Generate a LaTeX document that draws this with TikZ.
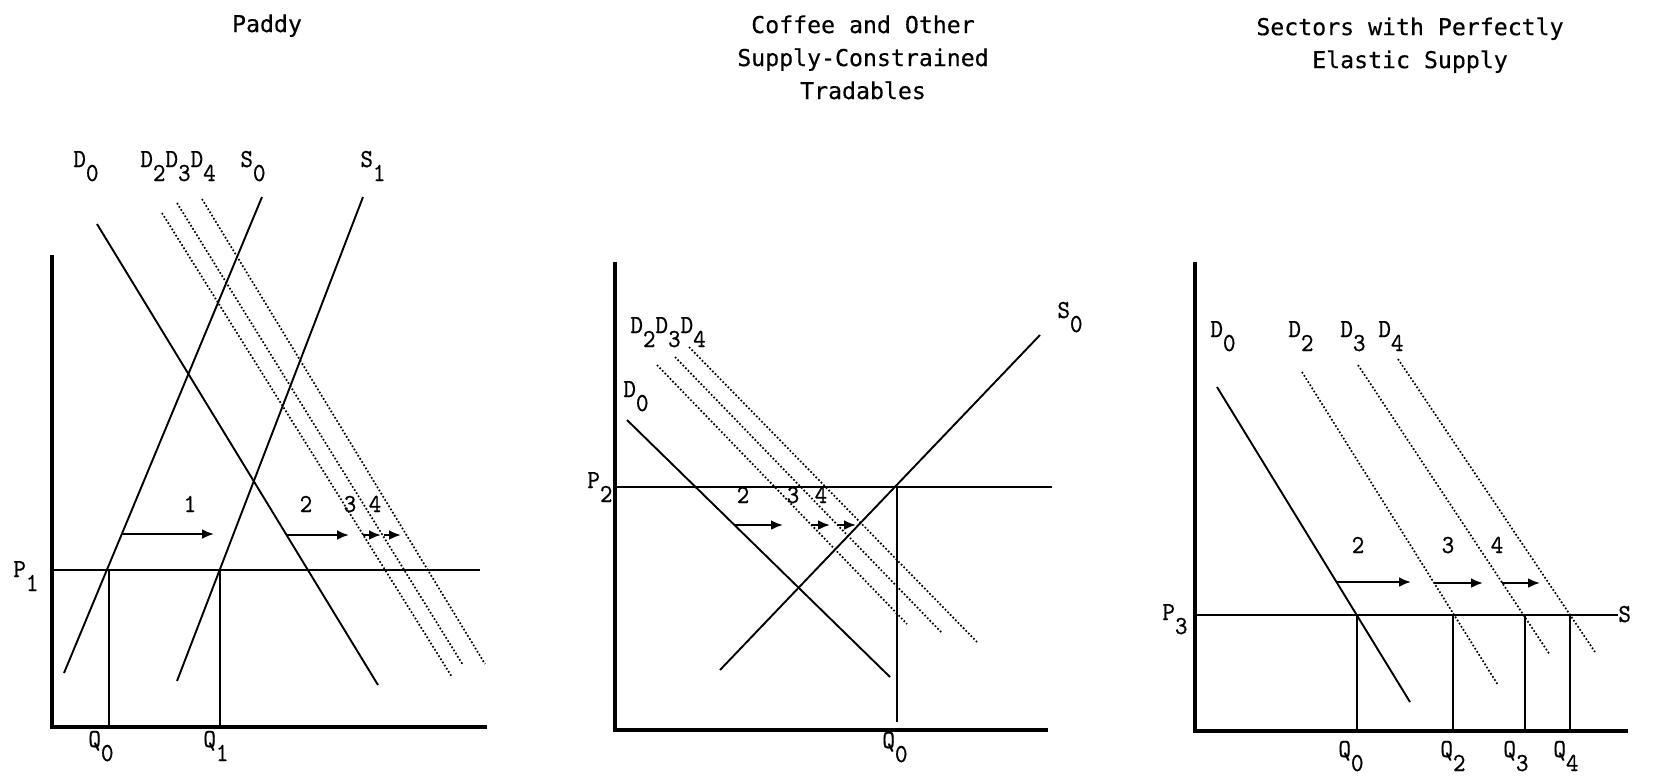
\documentclass[tikz,border=0pt]{standalone}
\usepackage{fontspec}
\newfontfamily\titlefont{DejaVu Sans Mono}[FakeBold=0.4]
\newfontfamily\labfont{lmmono10-regular}[Extension=.otf, FakeBold=0.6, FakeStretch=0.92]
\usetikzlibrary{arrows.meta}
\newcommand{\mysub}[2]{#1\raisebox{-7pt}{#2}}
\begin{document}
\begin{tikzpicture}[x=0.5pt,y=-0.5pt,
  axis/.style={line width=1.6pt},
  curve/.style={line width=0.95pt},
  dotcurve/.style={line width=0.85pt, dash pattern=on 0.85pt off 1.0pt},
  guide/.style={line width=0.95pt},
  shiftarrow/.style={line width=1.2pt, -{Latex[length=6pt,width=5pt]}},
  lab/.style={font=\fontsize{13}{15}\selectfont\labfont, inner sep=0pt, anchor=base west},
  num/.style={font=\fontsize{13}{15}\selectfont\labfont, inner sep=0pt, anchor=base},
  ttl/.style={font=\titlefont\fontsize{11.6}{16.5}\selectfont, align=center, inner sep=0pt, anchor=north}
]
\useasboundingbox (0,0) rectangle (1675,777);

% ---------------- Titles
\node[ttl] (t1) at (267,14) {Paddy};
\node[ttl] (t2) at (863,15) {Coffee and Other\\Supply-Constrained\\Tradables};
\node[ttl] (t3) at (1410,17) {Sectors with Perfectly\\Elastic Supply};

% ================= Panel 1: Paddy
\coordinate (a1t) at (52,255);
\coordinate (a1o) at (52,727);
\coordinate (a1r) at (487,727);
\draw[axis] (a1t) -- (a1o) -- (a1r);

\coordinate (d0a) at (97,224);  \coordinate (d0b) at (378,685);
\coordinate (s0a) at (262,197); \coordinate (s0b) at (64,673);
\coordinate (s1a) at (363,197); \coordinate (s1b) at (177,681);
\coordinate (d2a) at (162,213); \coordinate (d2b) at (452,677);
\coordinate (d3a) at (177,203); \coordinate (d3b) at (463,665);
\coordinate (d4a) at (202,199); \coordinate (d4b) at (485,664);
\draw[curve] (d0a) -- (d0b);
\draw[curve] (s0a) -- (s0b);
\draw[curve] (s1a) -- (s1b);
\draw[dotcurve] (d2a) -- (d2b);
\draw[dotcurve] (d3a) -- (d3b);
\draw[dotcurve] (d4a) -- (d4b);

\coordinate (p1a) at (52,570);  \coordinate (p1b) at (480,570);
\draw[guide] (p1a) -- (p1b);
\coordinate (q0t) at (109,570); \coordinate (q0b) at (109,727);
\coordinate (q1t) at (220,570); \coordinate (q1b) at (220,727);
\draw[guide] (q0t) -- (q0b);
\draw[guide] (q1t) -- (q1b);

\coordinate (ar1a) at (122,534); \coordinate (ar1b) at (214,534);
\coordinate (ar2a) at (287,535); \coordinate (ar2b) at (349,535);
\coordinate (ar3a) at (363,535); \coordinate (ar3b) at (381,535);
\coordinate (ar4a) at (384,535); \coordinate (ar4b) at (401,535);
\draw[shiftarrow] (ar1a) -- (ar1b);
\draw[shiftarrow] (ar2a) -- (ar2b);
\draw[shiftarrow] (ar3a) -- (ar3b);
\draw[shiftarrow] (ar4a) -- (ar4b);
\node[num] (n11) at (190,512) {1};
\node[num] (n12) at (306,512) {2};
\node[num] (n13) at (350,512) {3};
\node[num] (n14) at (375,512) {4};

\node[lab] (l1d0) at (73,167) {\mysub{D}{0}};
\node[lab] (l1d2) at (140,167) {\mysub{D}{2}\mysub{D}{3}\mysub{D}{4}};
\node[lab] (l1s0) at (240,167) {\mysub{S}{0}};
\node[lab] (l1s1) at (360,167) {\mysub{S}{1}};
\node[lab] (l1p1) at (13,577) {\mysub{P}{1}};
\node[lab] (l1q0) at (88,747) {\mysub{Q}{0}};
\node[lab] (l1q1) at (203,747) {\mysub{Q}{1}};

% ================= Panel 2: Coffee
\coordinate (a2t) at (615,262);
\coordinate (a2o) at (615,730);
\coordinate (a2r) at (1048,730);
\draw[axis] (a2t) -- (a2o) -- (a2r);

\coordinate (e0a) at (627,420);  \coordinate (e0b) at (890,677);
\coordinate (t0a) at (1040,335); \coordinate (t0b) at (720,670);
\coordinate (e2a) at (657,365);  \coordinate (e2b) at (907,624);
\coordinate (e3a) at (675,357);  \coordinate (e3b) at (942,633);
\coordinate (e4a) at (689,347);  \coordinate (e4b) at (978,643);
\draw[curve] (e0a) -- (e0b);
\draw[curve] (t0a) -- (t0b);
\draw[dotcurve] (e2a) -- (e2b);
\draw[dotcurve] (e3a) -- (e3b);
\draw[dotcurve] (e4a) -- (e4b);

\coordinate (p2a) at (615,487); \coordinate (p2b) at (1052,487);
\draw[guide] (p2a) -- (p2b);
\coordinate (r0t) at (897,487); \coordinate (r0b) at (897,722);
\draw[guide] (r0t) -- (r0b);

\coordinate (br2a) at (735,525); \coordinate (br2b) at (783,525);
\coordinate (br3a) at (811,525); \coordinate (br3b) at (830,525);
\coordinate (br4a) at (838,525); \coordinate (br4b) at (856,525);
\draw[shiftarrow] (br2a) -- (br2b);
\draw[shiftarrow] (br3a) -- (br3b);
\draw[shiftarrow] (br4a) -- (br4b);
\node[num] (n22) at (743,503) {2};
\node[num] (n23) at (793,503) {3};
\node[num] (n24) at (821,503) {4};

\node[lab] (l2d2) at (630,333) {\mysub{D}{2}\mysub{D}{3}\mysub{D}{4}};
\node[lab] (l2d0) at (623,397) {\mysub{D}{0}};
\node[lab] (l2s0) at (1057,318) {\mysub{S}{0}};
\node[lab] (l2p2) at (587,488) {\mysub{P}{2}};
\node[lab] (l2q0) at (882,748) {\mysub{Q}{0}};

% ================= Panel 3: Elastic supply
\coordinate (a3t) at (1195,262);
\coordinate (a3o) at (1195,731);
\coordinate (a3r) at (1628,731);
\draw[axis] (a3t) -- (a3o) -- (a3r);

\coordinate (f0a) at (1217,387); \coordinate (f0b) at (1410,702);
\coordinate (f2a) at (1302,372); \coordinate (f2b) at (1498,685);
\coordinate (f3a) at (1358,365); \coordinate (f3b) at (1550,655);
\coordinate (f4a) at (1398,359); \coordinate (f4b) at (1595,652);
\draw[curve] (f0a) -- (f0b);
\draw[dotcurve] (f2a) -- (f2b);
\draw[dotcurve] (f3a) -- (f3b);
\draw[dotcurve] (f4a) -- (f4b);

\coordinate (p3a) at (1195,615); \coordinate (p3b) at (1618,615);
\draw[guide] (p3a) -- (p3b);
\coordinate (u0t) at (1357,615); \coordinate (u0b) at (1357,729);
\coordinate (u2t) at (1453,615); \coordinate (u2b) at (1453,729);
\coordinate (u3t) at (1525,615); \coordinate (u3b) at (1525,731);
\coordinate (u4t) at (1570,615); \coordinate (u4b) at (1570,729);
\draw[guide] (u0t) -- (u0b);
\draw[guide] (u2t) -- (u2b);
\draw[guide] (u3t) -- (u3b);
\draw[guide] (u4t) -- (u4b);

\coordinate (cr2a) at (1336,582); \coordinate (cr2b) at (1411,582);
\coordinate (cr3a) at (1434,583); \coordinate (cr3b) at (1483,583);
\coordinate (cr4a) at (1502,583); \coordinate (cr4b) at (1540,583);
\draw[shiftarrow] (cr2a) -- (cr2b);
\draw[shiftarrow] (cr3a) -- (cr3b);
\draw[shiftarrow] (cr4a) -- (cr4b);
\node[num] (n32) at (1358,553) {2};
\node[num] (n33) at (1448,553) {3};
\node[num] (n34) at (1497,553) {4};

\node[lab] (l3d0) at (1210,337) {\mysub{D}{0}};
\node[lab] (l3d2) at (1288,337) {\mysub{D}{2}};
\node[lab] (l3d3) at (1340,337) {\mysub{D}{3}};
\node[lab] (l3d4) at (1378,337) {\mysub{D}{4}};
\node[lab] (l3s) at (1618,622) {S};
\node[lab] (l3p3) at (1162,620) {\mysub{P}{3}};
\node[lab] (l3q0) at (1338,757) {\mysub{Q}{0}};
\node[lab] (l3q2) at (1440,757) {\mysub{Q}{2}};
\node[lab] (l3q3) at (1503,757) {\mysub{Q}{3}};
\node[lab] (l3q4) at (1553,757) {\mysub{Q}{4}};
\end{tikzpicture}
\end{document}
